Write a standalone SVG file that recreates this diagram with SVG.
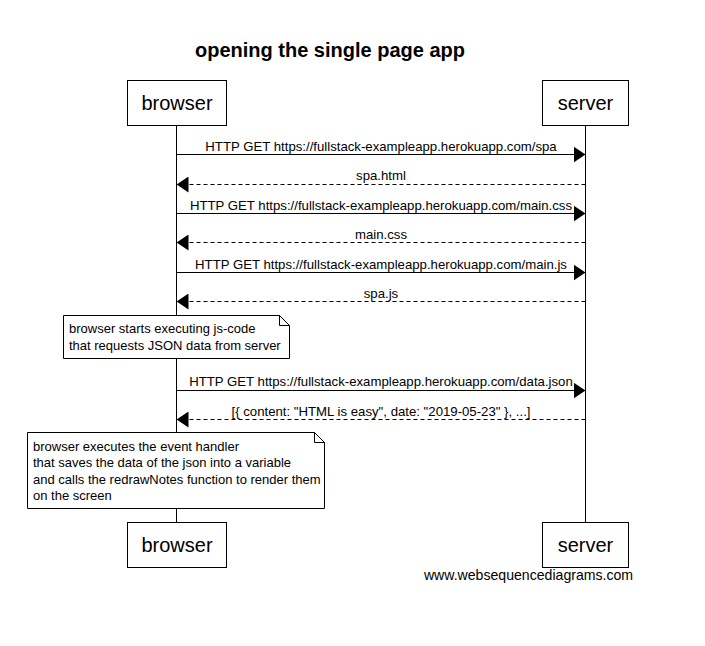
<svg xmlns="http://www.w3.org/2000/svg" width="705" height="646" viewBox="0 0 705 646">
<defs>
<marker id="ah" markerWidth="12" markerHeight="16" refX="12" refY="8" orient="auto" markerUnits="userSpaceOnUse">
<path d="M0,0 L12,8 L0,16 Z" fill="#000"/>
</marker>
<style>
text{font-family:"Liberation Sans",Arial,sans-serif;fill:#000}
.box{fill:#fff;stroke:#000;stroke-width:1}
.life{stroke:#000;stroke-width:1}
.actor{font-size:20px;text-anchor:middle}
.msg{font-size:13.2px;text-anchor:middle}
.note{font-size:13px}
.solid{stroke:#000;stroke-width:1;fill:none}
.dash{stroke:#000;stroke-width:1;stroke-dasharray:4,3;fill:none}
</style>
</defs>
<rect width="705" height="646" fill="#fff"/>
<text x="330" y="57" font-size="20" font-weight="bold" text-anchor="middle">opening the single page app</text>
<g id="lifelines">
<line class="life" x1="176.5" y1="125" x2="176.5" y2="522"/>
<line class="life" x1="585.5" y1="125" x2="585.5" y2="522"/>
</g>
<g id="browser-top"><rect class="box" x="127.5" y="80.5" width="99" height="45"/><text class="actor" x="177" y="110">browser</text></g>
<g id="server-top"><rect class="box" x="542.5" y="80.5" width="86" height="45"/><text class="actor" x="585.5" y="110">server</text></g>
<g id="browser-bottom"><rect class="box" x="127.5" y="522.5" width="99" height="45"/><text class="actor" x="177" y="552">browser</text></g>
<g id="server-bottom"><rect class="box" x="542.5" y="522.5" width="86" height="45"/><text class="actor" x="585.5" y="552">server</text></g>
<g id="connectors">
<line class="solid" x1="176.5" y1="154.5" x2="585.5" y2="154.5" marker-end="url(#ah)"/>
<text class="msg" x="381" y="151">HTTP GET https://fullstack-exampleapp.herokuapp.com/spa</text>
<line class="dash" x1="585.5" y1="184.5" x2="176.5" y2="184.5" marker-end="url(#ah)"/>
<text class="msg" x="381" y="180">spa.html</text>
<line class="solid" x1="176.5" y1="213.5" x2="585.5" y2="213.5" marker-end="url(#ah)"/>
<text class="msg" x="381" y="210">HTTP GET https://fullstack-exampleapp.herokuapp.com/main.css</text>
<line class="dash" x1="585.5" y1="242.5" x2="176.5" y2="242.5" marker-end="url(#ah)"/>
<text class="msg" x="381" y="239">main.css</text>
<line class="solid" x1="176.5" y1="272.5" x2="585.5" y2="272.5" marker-end="url(#ah)"/>
<text class="msg" x="381" y="269">HTTP GET https://fullstack-exampleapp.herokuapp.com/main.js</text>
<line class="dash" x1="585.5" y1="301.5" x2="176.5" y2="301.5" marker-end="url(#ah)"/>
<text class="msg" x="381" y="298">spa.js</text>
<line class="solid" x1="176.5" y1="390.5" x2="585.5" y2="390.5" marker-end="url(#ah)"/>
<text class="msg" x="381" y="386">HTTP GET https://fullstack-exampleapp.herokuapp.com/data.json</text>
<line class="dash" x1="585.5" y1="419.5" x2="176.5" y2="419.5" marker-end="url(#ah)"/>
<text class="msg" x="381" y="416">[{ content: "HTML is easy", date: "2019-05-23" }, ...]</text>
</g>
<g id="note1">
<path class="box" d="M63.5,315.5 H279.5 L289.5,325.5 V358.5 H63.5 Z"/>
<path class="solid" d="M279.5,315.5 V325.5 H289.5"/>
<text class="note" x="69" y="333">browser starts executing js-code</text>
<text class="note" x="69" y="350">that requests JSON data from server</text>
</g>
<g id="note2">
<path class="box" d="M27.5,432.5 H314.5 L324.5,442.5 V508.5 H27.5 Z"/>
<path class="solid" d="M314.5,432.5 V442.5 H324.5"/>
<text class="note" x="33" y="451">browser executes the event handler</text>
<text class="note" x="33" y="467">that saves the data of the json into a variable</text>
<text class="note" x="33" y="484">and calls the redrawNotes function to render them</text>
<text class="note" x="33" y="500">on the screen</text>
</g>
<text x="528.5" y="580" font-size="14.1" text-anchor="middle">www.websequencediagrams.com</text>
</svg>
